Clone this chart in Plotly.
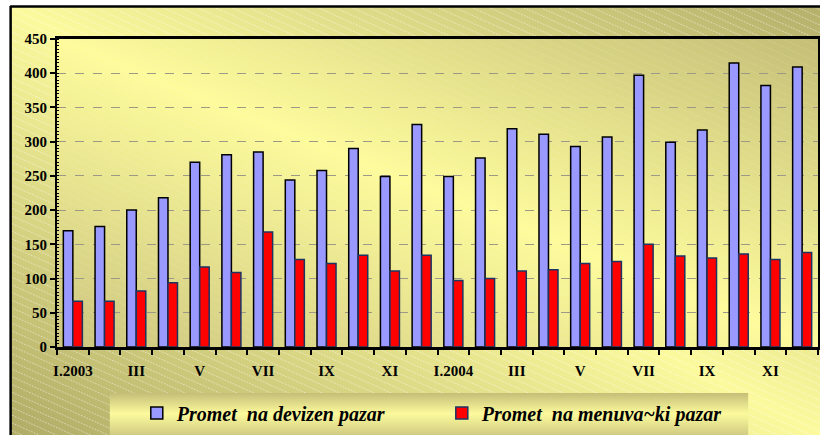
import base64
import plotly.graph_objects as go

# Monthly turnover, January 2003 - December 2004
periods = [
    "I.2003", "II.2003", "III.2003", "IV.2003", "V.2003", "VI.2003",
    "VII.2003", "VIII.2003", "IX.2003", "X.2003", "XI.2003", "XII.2003",
    "I.2004", "II.2004", "III.2004", "IV.2004", "V.2004", "VI.2004",
    "VII.2004", "VIII.2004", "IX.2004", "X.2004", "XI.2004", "XII.2004",
]
tick_labels = [
    "I.2003", "", "III", "", "V", "", "VII", "", "IX", "", "XI", "",
    "I.2004", "", "III", "", "V", "", "VII", "", "IX", "", "XI", "",
]
devizen = [170, 176, 200, 218, 270, 281, 285, 244, 258, 290, 249, 325,
           249, 276, 319, 311, 293, 307, 397, 299, 317, 415, 382, 409]
menuvacki = [67, 67, 82, 94, 117, 109, 168, 128, 122, 134, 111, 134,
             97, 100, 111, 113, 122, 125, 150, 133, 130, 136, 128, 138]
y_ticks = [0, 50, 100, 150, 200, 250, 300, 350, 400, 450]

W, H = 822, 435
ML, MR, MT, MB = 57, 2, 39, 88
PW, PH = W - ML - MR, H - MT - MB

# Background: gradient chart area with faint hatching, gradient plot area
# and a banded panel behind the legend.
svg = f'''<svg xmlns="http://www.w3.org/2000/svg" width="{W}" height="{H}" viewBox="0 0 {W} {H}" preserveAspectRatio="none">
<defs>
<linearGradient id="outer" x1="0" y1="1" x2="1" y2="0">
<stop offset="0" stop-color="#b0ab66"/>
<stop offset="0.5" stop-color="#fcfa9d"/>
<stop offset="1" stop-color="#b5b06b"/>
</linearGradient>
<linearGradient id="plot" x1="0" y1="1" x2="1" y2="0">
<stop offset="0" stop-color="#cbc57f"/>
<stop offset="0.5" stop-color="#fdfb9c"/>
<stop offset="1" stop-color="#c4be77"/>
</linearGradient>
<linearGradient id="leg" x1="0" y1="0" x2="0" y2="1">
<stop offset="0" stop-color="#c4be78"/>
<stop offset="0.45" stop-color="#fcfa9c"/>
<stop offset="1" stop-color="#c9c37e"/>
</linearGradient>
<pattern id="hatch" patternUnits="userSpaceOnUse" width="18" height="7" patternTransform="rotate(24)">
<line x1="0" y1="3.5" x2="18" y2="3.5" stroke="#ffffff" stroke-width="1" stroke-dasharray="1.5 1.5"/>
</pattern>
</defs>
<rect width="{W}" height="{H}" fill="#ffffff"/>
<rect x="10" y="6" width="{W - 10}" height="{H - 6}" fill="url(#outer)"/>
<rect x="10" y="6" width="{W - 10}" height="{H - 6}" fill="url(#hatch)" opacity="0.5"/>
<rect x="{ML}" y="{MT}" width="{PW}" height="{PH}" fill="url(#plot)"/>
<rect x="{ML}" y="{MT}" width="{PW}" height="{PH}" fill="url(#hatch)" opacity="0.15"/>
<rect x="110" y="393" width="640" height="46" fill="url(#leg)"/>
<line x1="10" y1="6.5" x2="{W}" y2="6.5" stroke="#000" stroke-width="2.5"/>
<line x1="10.5" y1="6" x2="10.5" y2="{H}" stroke="#000" stroke-width="2.5"/>
</svg>'''
bg_src = "data:image/svg+xml;base64," + base64.b64encode(svg.encode()).decode()

fig = go.Figure()
fig.add_trace(go.Bar(
    x=periods, y=devizen, name="<b><i>Promet  na devizen pazar</i></b>",
    marker=dict(color="#9999ff", line=dict(color="#000000", width=1.5)),
))
fig.add_trace(go.Bar(
    x=periods, y=menuvacki, name="<b><i>Promet  na menuva~ki pazar</i></b>",
    marker=dict(color="#ff0000", line=dict(color="#1b3563", width=1.5)),
))

axis_font = dict(family="Liberation Serif", size=15, color="#000000", weight=700)

fig.update_layout(
    width=W, height=H,
    margin=dict(l=ML, r=MR, t=MT, b=MB, pad=0),
    paper_bgcolor="rgba(0,0,0,0)",
    plot_bgcolor="rgba(0,0,0,0)",
    barmode="group", bargap=0.4, bargroupgap=0.0,
    showlegend=True,
    legend=dict(
        orientation="h", x=(137 - ML) / PW, xanchor="left",
        y=-(413 - MT - PH) / PH, yanchor="middle",
        bgcolor="rgba(0,0,0,0)",
        font=dict(family="Liberation Serif", size=20, color="#000000",
                  weight=700, style="italic"),
        entrywidthmode="pixels", entrywidth=260,
    ),
    images=[dict(
        source=bg_src, xref="paper", yref="paper",
        x=-ML / PW, y=1 + MT / PH, sizex=W / PW, sizey=H / PH,
        xanchor="left", yanchor="top", sizing="stretch", layer="below",
    )],
    xaxis=dict(
        type="category", tickmode="array", tickvals=periods, ticktext=tick_labels,
        tickson="boundaries", ticks="outside", ticklen=5, tickwidth=1.5,
        tickcolor="#000000", showline=True, linecolor="#000000", linewidth=2.5,
        mirror=True, showgrid=False, tickfont=axis_font, tickangle=0,
        ticklabelstandoff=8,
    ),
    yaxis=dict(
        range=[0, 450], tickmode="array", tickvals=y_ticks,
        ticks="outside", ticklen=5, tickwidth=1.5, tickcolor="#000000",
        showline=True, linecolor="#000000", linewidth=2, mirror=True,
        showgrid=True, gridcolor="#9c9a86", gridwidth=1, griddash="dash",
        zeroline=False, tickfont=axis_font,
        minor=dict(dtick=5, ticks="inside", ticklen=2, tickwidth=1,
                   tickcolor="#000000", showgrid=False),
    ),
)

fig.write_html("out.html")
